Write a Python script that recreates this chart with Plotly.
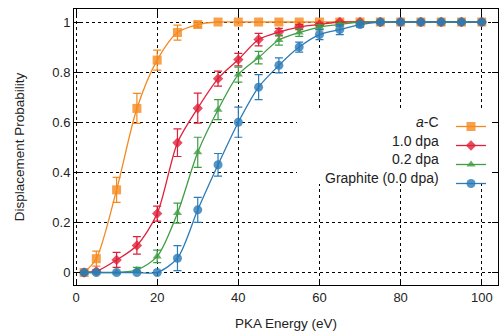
import plotly.graph_objects as go

energy = [2, 5, 10, 15, 20, 25, 30, 35, 40, 45, 50, 55, 60, 65, 70, 75, 80, 85, 90, 95, 100]

ac_prob = [0, 0.055, 0.33, 0.655, 0.848, 0.958, 0.99, 1, 1, 1, 1, 1, 1, 1, 1, 1, 1, 1, 1, 1, 1]
ac_err = [0, 0.03, 0.05, 0.06, 0.04, 0.03, 0.01, 0, 0, 0, 0, 0, 0, 0, 0, 0, 0, 0, 0, 0, 0]

dpa10_prob = [0, 0.005, 0.05, 0.108, 0.235, 0.518, 0.656, 0.774, 0.85, 0.93, 0.96, 0.98, 0.99, 1, 1, 1, 1, 1, 1, 1, 1]
dpa10_err = [0, 0.005, 0.03, 0.035, 0.03, 0.055, 0.06, 0.03, 0.025, 0.025, 0.015, 0.01, 0.005, 0, 0, 0, 0, 0, 0, 0, 0]

dpa02_prob = [0, 0, 0, 0.01, 0.064, 0.237, 0.48, 0.65, 0.79, 0.858, 0.928, 0.958, 0.98, 0.99, 1, 1, 1, 1, 1, 1, 1]
dpa02_err = [0, 0, 0, 0.01, 0.025, 0.04, 0.06, 0.04, 0.03, 0.025, 0.02, 0.015, 0.01, 0.005, 0, 0, 0, 0, 0, 0, 0]

graph_prob = [0, 0, 0, 0, 0, 0.057, 0.25, 0.43, 0.60, 0.74, 0.827, 0.90, 0.95, 0.97, 0.99, 1, 1, 1, 1, 1, 1]
graph_err = [0, 0, 0, 0, 0, 0.05, 0.05, 0.045, 0.06, 0.05, 0.03, 0.02, 0.02, 0.02, 0.01, 0, 0, 0, 0, 0, 0]

series_names = ["<i>a</i>-C", "1.0 dpa", "0.2 dpa", "Graphite (0.0 dpa)"]
series_vals = [ac_prob, dpa10_prob, dpa02_prob, graph_prob]
series_errs = [ac_err, dpa10_err, dpa02_err, graph_err]
colors = ["#f5891f", "#e0203a", "#3f9e44", "#2a7bb8"]
symbols = ["square", "diamond", "triangle-up", "circle"]
sizes = [9, 8, 8, 9]

x_ticks = [0, 20, 40, 60, 80, 100]
y_ticks = [0, 0.2, 0.4, 0.6, 0.8, 1]
y_tick_text = ["0", "0.2", "0.4", "0.6", "0.8", "1"]

fig = go.Figure()
for name, vals, errs, col, sym, sz in zip(series_names, series_vals, series_errs, colors, symbols, sizes):
    fig.add_trace(go.Scatter(
        x=energy, y=vals, name=" ",
        mode="lines+markers",
        line=dict(color=col, width=1.3, shape="spline", smoothing=0.8),
        marker=dict(symbol=sym, size=sz, color=col, opacity=0.8),
        error_y=dict(type="data", array=errs, visible=True, color=col, thickness=1.2, width=4),
        showlegend=True,
    ))

# plot-area geometry in pixels
L, R, T, B = 74, 500, 9, 285
W, H = R - L, B - T

# opaque key box (hides grid behind the key, like the original)
fig.add_shape(type="rect", xref="paper", yref="paper",
              x0=(298 - L) / W, x1=(493 - L) / W, y0=(B - 184) / H, y1=(B - 111) / H,
              fillcolor="white", line=dict(width=0), layer="above")

# legend labels (right-aligned text to the left of legend symbols)
label_y_px = [122, 141, 159, 178]
for name, ypx in zip(series_names, label_y_px):
    fig.add_annotation(
        x=(443 - L) / W, y=(B - ypx) / H, xref="paper", yref="paper",
        text=name, showarrow=False, xanchor="right", yanchor="middle",
        font=dict(size=14, color="#222"),
    )

axis_common = dict(
    showline=True, linecolor="black", linewidth=1, mirror="ticks",
    ticks="inside", ticklen=6, tickcolor="black",
    showgrid=True, gridcolor="black", gridwidth=1, griddash="dot",
    zeroline=False, tickfont=dict(size=13, color="#222"), automargin=False,
)

fig.update_xaxes(range=[-0.5, 104], tickvals=x_ticks,
                 title=dict(text="PKA Energy (eV)", font=dict(size=13.5, color="#222"), standoff=14),
                 **axis_common)
fig.update_yaxes(range=[-0.05, 1.052], tickvals=y_ticks, ticktext=y_tick_text,
                 title=dict(text="Displacement Probability", font=dict(size=13.5, color="#222"), standoff=24),
                 **axis_common)

fig.update_layout(
    width=500, height=331,
    margin=dict(l=L, r=500 - R, t=T, b=331 - B),
    paper_bgcolor="white", plot_bgcolor="white",
    font=dict(family="Liberation Sans, Arial, sans-serif", size=13, color="#222"),
    legend=dict(x=(453 - L) / W, y=(B - 112) / H, xanchor="left", yanchor="top",
                bgcolor="rgba(0,0,0,0)", borderwidth=0, itemwidth=30,
                font=dict(size=11), tracegroupgap=0),
    showlegend=True,
)

fig.write_html("out.html", config={"displayModeBar": False},
               post_script="document.body.style.margin='0';document.body.style.overflow='hidden';")
